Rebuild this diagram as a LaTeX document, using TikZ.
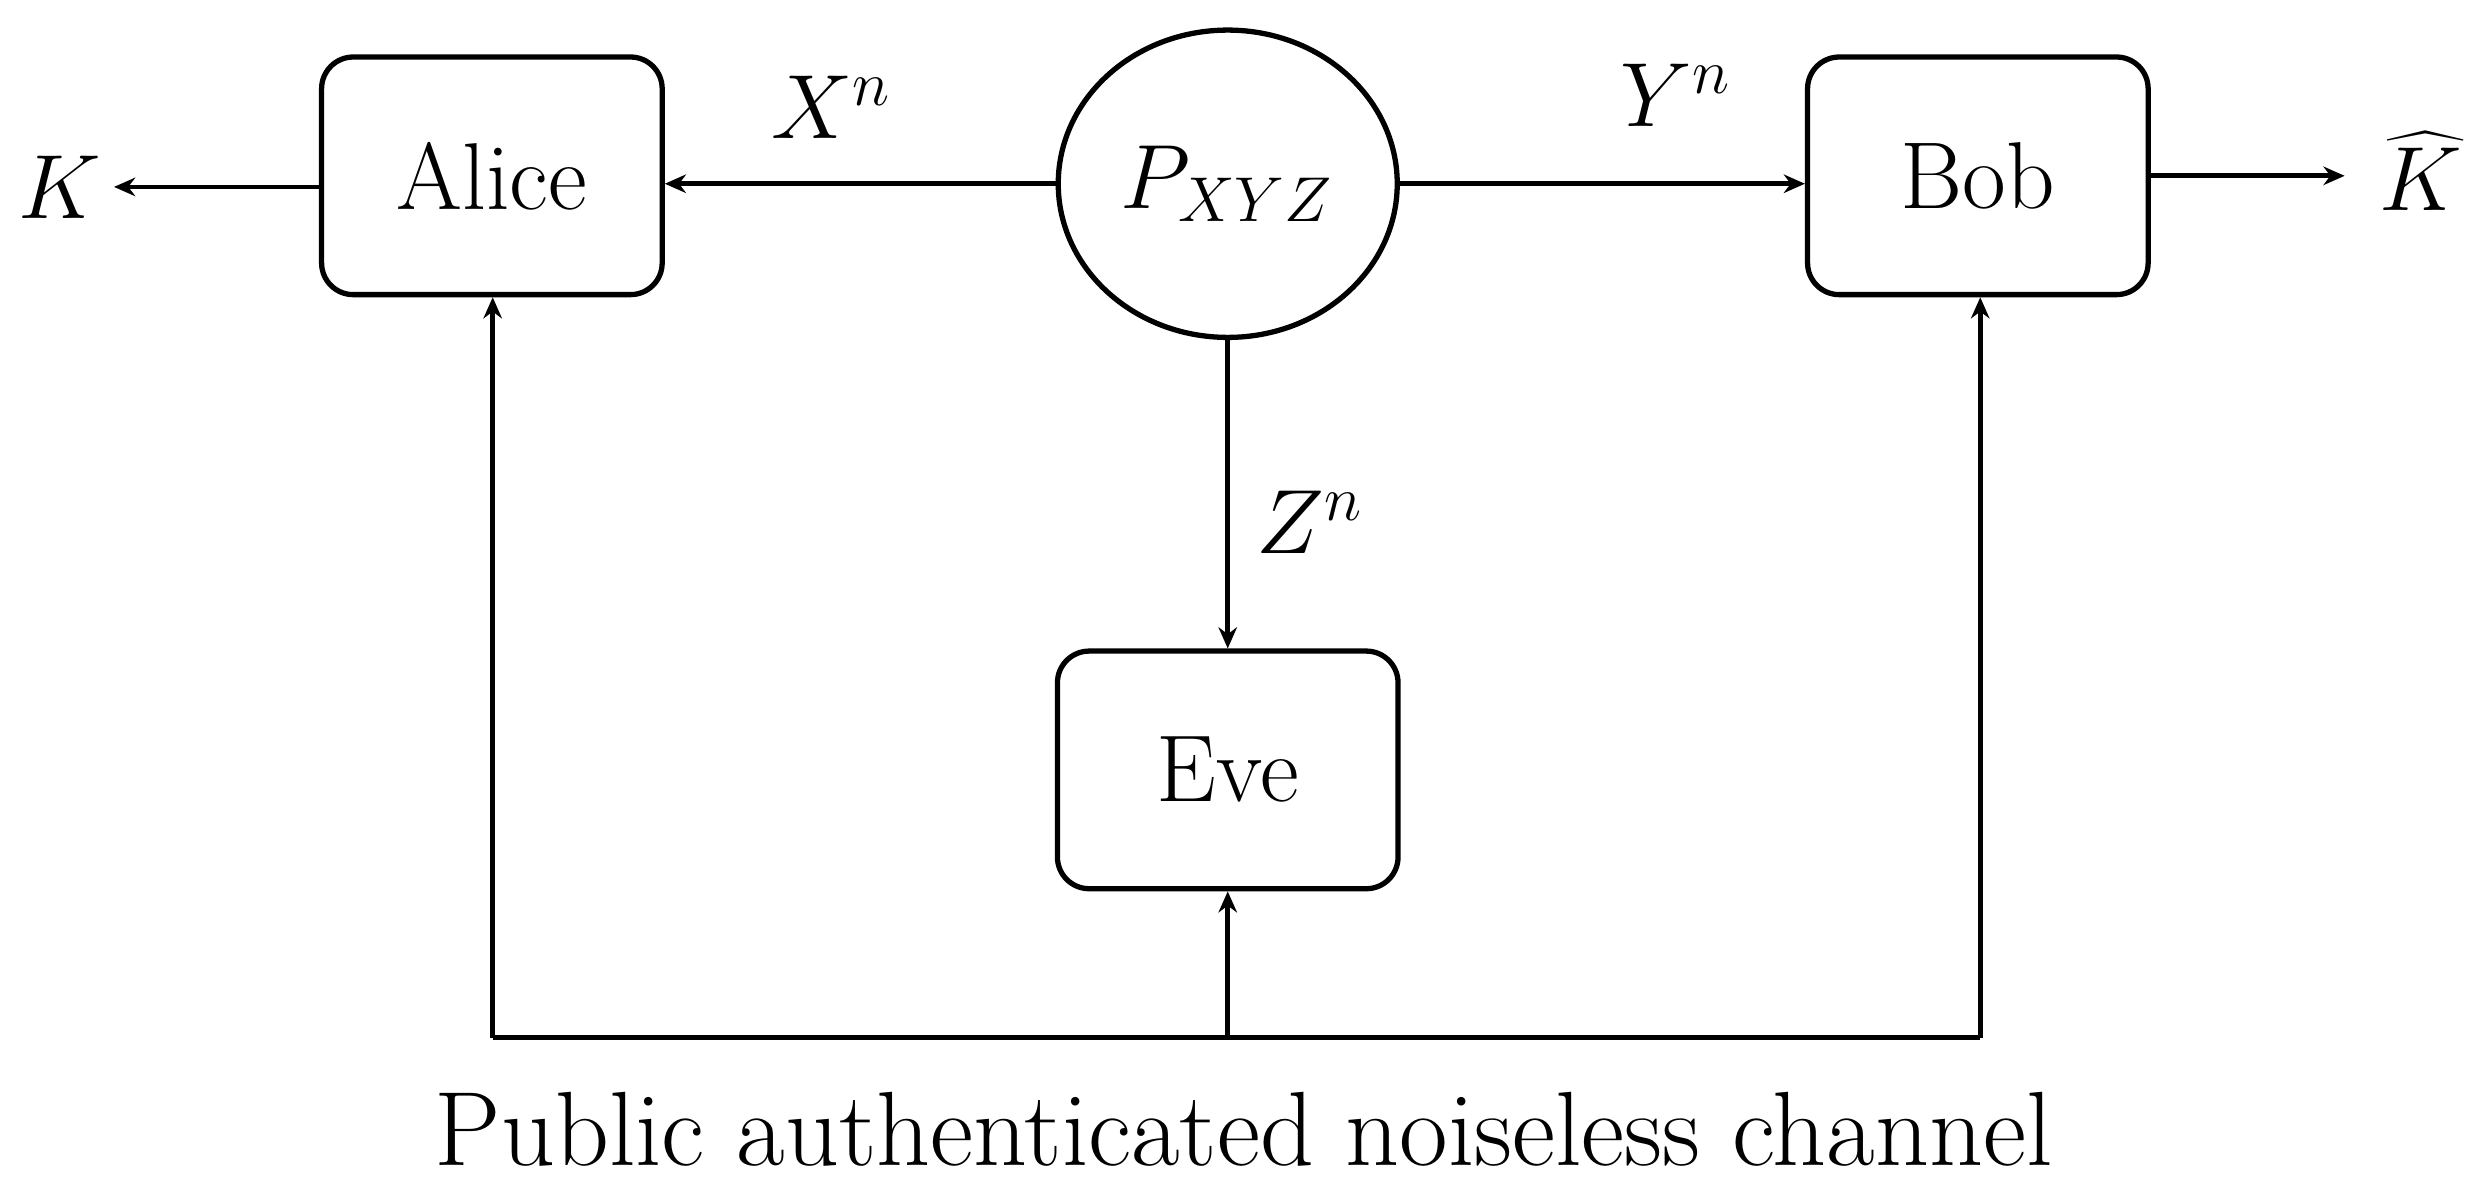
\documentclass[tikz,border=0pt]{standalone}
\usetikzlibrary{arrows.meta,shapes.geometric}
\begin{document}
\begin{tikzpicture}[x=0.3pt,y=-0.3pt,
  box/.style={draw,line width=1pt,rounded corners=6pt,minimum width=64.5pt,minimum height=45pt,font=\fontsize{18}{21}\selectfont},
  arr/.style={line width=0.9pt,-{Stealth[length=4pt,width=3.5pt]}},
  lbl/.style={font=\fontsize{18}{21}\selectfont}]
\useasboundingbox (0,0) rectangle (1568,757);
\node[box] (alice) at (310.5,111) {Alice};
\node[box] (bob) at (1248.5,111) {Bob};
\node[box] (eve) at (775,486) {Eve};
\node[draw,line width=1pt,ellipse,minimum width=64.2pt,minimum height=58.2pt,inner sep=0pt,font=\fontsize{18}{21}\selectfont] (p) at (775,116) {$P_{XYZ}$};
\node[lbl] (k) at (38,118) {$K$};
\node[lbl] (kh) at (1528,108) {$\widehat{K}$};
\node[lbl] at (525,68) {$X^n$};
\node[lbl] at (1058,60) {$Y^n$};
\node[lbl] at (827,330) {$Z^n$};
\node[font=\fontsize{20}{24}\selectfont] (pub) at (785,713) {Public authenticated noiseless channel};
\coordinate (kl) at (72,118);
\coordinate (kr) at (1480,111);
\coordinate (bl) at (311,655);
\coordinate (bm) at (775,655);
\coordinate (br) at (1250,655);
\draw[arr] (alice.west |- kl) -- (kl);
\draw[arr] (bob.east |- kr) -- (kr);
\draw[arr] (p.west) -- (alice.east |- p.west);
\draw[arr] (p.east) -- (bob.west |- p.east);
\draw[arr] (p.south) -- (eve.north);
\draw[line width=0.9pt] (bl) -- (br);
\draw[arr] (bl) -- (bl |- alice.south);
\draw[arr] (bm) -- (eve.south);
\draw[arr] (br) -- (br |- bob.south);
\end{tikzpicture}
\end{document}
